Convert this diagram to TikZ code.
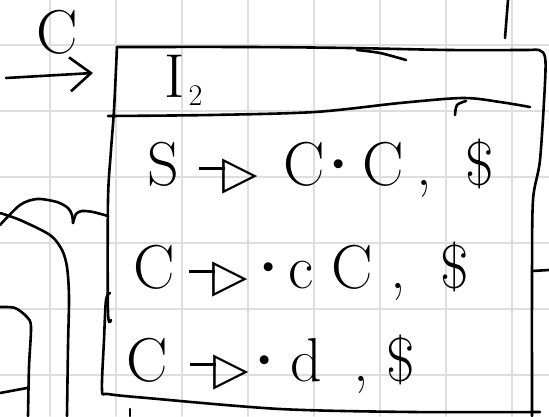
\documentclass[tikz,border=0pt]{standalone}
\usepackage{fontspec}
\usetikzlibrary{arrows.meta}
\newfontfamily\formfont{DejaVu Sans}
\definecolor{gitter}{RGB}{222,222,222}
\definecolor{stift}{RGB}{0,0,0}
\newcommand{\hand}{\fontsize{62}{62}\selectfont}
\newcommand{\zu}{\rule[15pt]{26pt}{2.6pt}\hspace{-3pt}\raisebox{-3pt}{\formfont\fontsize{46}{46}\selectfont ▷}}
\newcommand{\pkt}{\makebox[14pt]{\bfseries ·}}
\newcommand{\feld}[2]{\makebox[#1pt][l]{#2}}

\begin{document}
\begin{tikzpicture}[x=1pt, y=-1pt, stift, line width=2.6pt, line cap=round, line join=round,
	>={Straight Barb[length=21pt,width=34pt]},
	zeile/.style={anchor=base west, inner sep=0pt, font=\hand}]
	\useasboundingbox[fill=white] (0,0) rectangle (549,416);

	% Karopapier
	\foreach \x in {50,116,...,512}
		\draw[gitter, line width=1.8pt] (\x,0) -- (\x,416);
	\foreach \y in {45,111,...,375}
		\draw[gitter, line width=1.8pt] (0,\y) -- (549,\y);

	% Uebergang mit C
	\coordinate (start) at (6,78);
	\coordinate (ziel) at (93,73);
	\draw[->] (start) -- (ziel);
	\node[zeile] (lblC) at (35,53) {C};

	% Kasten I2
	\draw plot[smooth] coordinates {(117,47) (250,47) (350,48) (450,50) (525,50) (539,50) (545,57) (545,83) (540,160) (533,200) (532,280) (532,416)};
	\draw plot[smooth] coordinates {(357,50) (380,53) (406,60)};
	\draw plot[smooth] coordinates {(117,47) (114,110) (111,150) (108,200) (108,312) (111,320)};
	\draw plot[smooth] coordinates {(110,293) (106,300) (104,340) (102,390) (108,394) (147,398) (280,409) (413,412) (540,412)};
	\draw plot[smooth] coordinates {(108,116) (210,115) (315,112) (400,103) (463,98) (500,102) (530,107)};
	\draw plot[smooth] coordinates {(466,101) (457,105) (455,115)};
	\draw (532,271) -- (549,270);
	\node[zeile] (kopf) at (163,97) {I\hspace{4pt}\raisebox{-8pt}{\fontsize{30}{30}\selectfont 2}};

	% Items
	\node[zeile] (z1) at (146,185) {\feld{52}{S}\feld{84}{\zu}\feld{48}{C}\feld{31}{\pkt}\feld{54}{C}\feld{49}{,}\$};
	\node[zeile] (z2) at (132,288) {\feld{56}{C}\feld{72}{\zu}\feld{27}{\pkt}\feld{43}{c}\feld{59}{C}\feld{50}{,}\$};
	\node[zeile] (z3) at (125,381) {\feld{64}{C}\feld{67}{\zu}\feld{33}{\pkt}\feld{63}{d}\feld{33}{,}\$};

	% Reste links und oben
	\draw plot[smooth] coordinates {(0,225) (20,205) (37,199) (57,202) (68,208) (72,215) (73,223)};
	\draw plot[smooth] coordinates {(73,223) (76,214) (82,211) (93,212) (108,216)};
	\draw plot[smooth] coordinates {(0,213) (20,220) (50,235) (62,250) (67,267) (69,297) (68,347) (67,416)};
	\draw plot[smooth] coordinates {(0,307) (15,308) (27,317) (31,327) (29,367) (28,416)};
	\draw (0,393) -- (27,388);
	\draw (130,409) -- (130,416);
	\draw (508,0) -- (505,38);
\end{tikzpicture}
\end{document}
